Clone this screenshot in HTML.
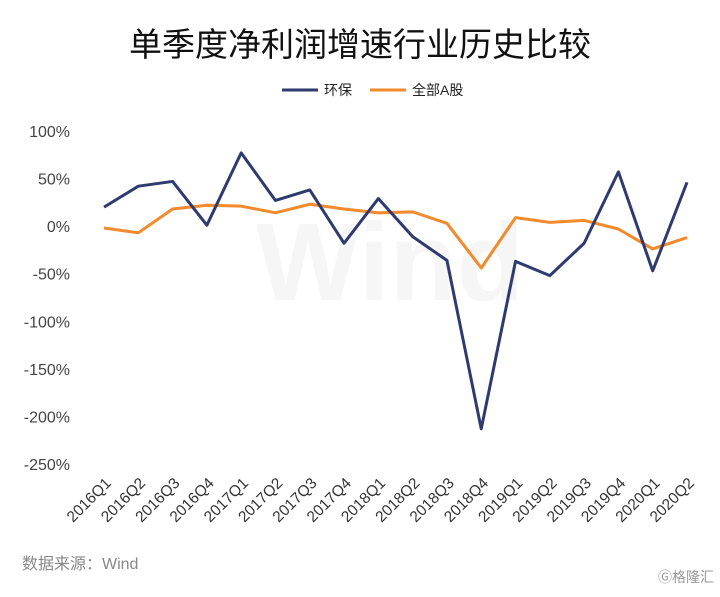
<!DOCTYPE html>
<html><head><meta charset="utf-8"><style>
body{margin:0;background:#fff;width:720px;height:592px;overflow:hidden;font-family:"Liberation Sans","Noto Sans CJK SC",sans-serif;}
</style></head><body>
<svg width="720" height="592" xmlns="http://www.w3.org/2000/svg">
<text x="360" y="56" text-anchor="middle" font-size="33" fill="#111" font-family="Liberation Sans, Noto Sans CJK SC, sans-serif">单季度净利润增速行业历史比较</text>
<g>
<line x1="282" y1="90" x2="318" y2="90" stroke="#2f3a6e" stroke-width="3"/>
<text x="324" y="95" font-size="14" fill="#222" font-family="Liberation Sans, Noto Sans CJK SC, sans-serif">环保</text>
<line x1="370" y1="90" x2="406" y2="90" stroke="#f28a2e" stroke-width="3"/>
<text x="412" y="95" font-size="14" fill="#222" font-family="Liberation Sans, Noto Sans CJK SC, sans-serif">全部A股</text>
</g>
<text x="390" y="300" text-anchor="middle" font-size="110" font-weight="bold" fill="#f6f6f6">Wind</text>
<g id="axes"></g>
<g id="series"></g>
<text x="22" y="569" font-size="16" fill="#888" font-family="Liberation Sans, Noto Sans CJK SC, sans-serif">数据来源：Wind</text>
<text x="714" y="582" text-anchor="end" font-size="14" fill="#999" font-family="Liberation Sans, Noto Sans CJK SC, sans-serif">Ⓖ格隆汇</text>
</svg>
<script>
const categories=["2016Q1","2016Q2","2016Q3","2016Q4","2017Q1","2017Q2","2017Q3","2017Q4","2018Q1","2018Q2","2018Q3","2018Q4","2019Q1","2019Q2","2019Q3","2019Q4","2020Q1","2020Q2"];
const huanbao=[20,42,47,1,77,27,38,-18,29,-11,-36,-213,-37,-52,-18,57,-47,46];
const allA=[-2,-7,18,22,21,14,23,18,14,15,3,-44,9,4,6,-3,-24,-12];
const yTicks=[100,50,0,-50,-100,-150,-200,-250];
const NS="http://www.w3.org/2000/svg";
const x0=104,x1=687,yTop=131,yBot=464;
function xs(i){return x0+(x1-x0)*i/(categories.length-1);}
function ys(v){return yTop+(100-v)/350*(yBot-yTop);}
const axes=document.getElementById('axes');
yTicks.forEach(t=>{
 const tx=document.createElementNS(NS,'text');
 tx.setAttribute('x',70);tx.setAttribute('y',ys(t)+6);tx.setAttribute('text-anchor','end');
 tx.setAttribute('font-size','16');tx.setAttribute('fill','#444');
 
 
 tx.textContent=t+'%';axes.appendChild(tx);
});
categories.forEach((c,i)=>{
 const tx=document.createElementNS(NS,'text');
 const x=xs(i)+8,y=484;
 tx.setAttribute('x',x);tx.setAttribute('y',y);tx.setAttribute('text-anchor','end');
 tx.setAttribute('font-size','15.5');tx.setAttribute('fill','#333');
 tx.setAttribute('transform','rotate(-45 '+x+' '+y+')');
 
 
 tx.textContent=c;axes.appendChild(tx);
});
const ser=document.getElementById('series');
function line(data,color,name){
 const p=document.createElementNS(NS,'polyline');
 p.setAttribute('points',data.map((v,i)=>xs(i)+','+ys(v)).join(' '));
 p.setAttribute('fill','none');p.setAttribute('stroke',color);p.setAttribute('stroke-width','3');
 p.setAttribute('stroke-linejoin','round');
 
 
 ser.appendChild(p);
}
line(allA,'#f28a2e','series-all-a');
line(huanbao,'#2f3a6e','series-huanbao');
</script>
</body></html>
